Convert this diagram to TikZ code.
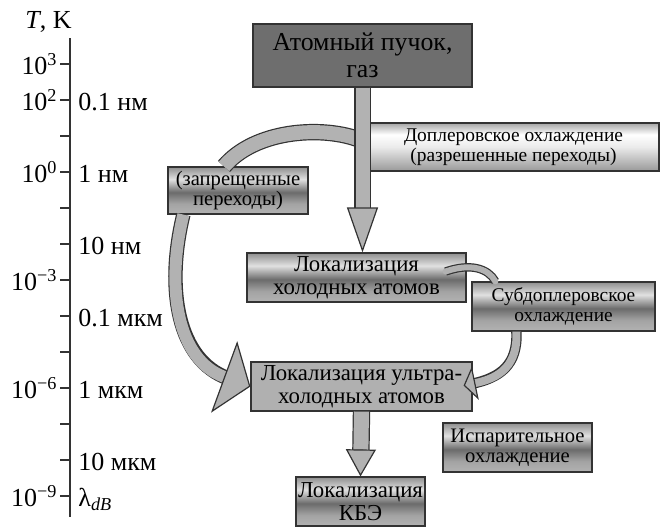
\documentclass[tikz,border=0pt]{standalone}
\usepackage{fontspec}
\setmainfont{Liberation Serif}
\usetikzlibrary{arrows.meta,calc}
\pgfdeclareverticalshading{metal}{100bp}{color(0bp)=(black!30); color(25bp)=(black!30); color(36bp)=(black!36); color(48bp)=(black!58); color(62bp)=(black!12); color(75bp)=(black!44); color(100bp)=(black!44)}
\pgfdeclareverticalshading{shine}{100bp}{color(0bp)=(black!40); color(25bp)=(black!40); color(50bp)=(black!8); color(63bp)=(white); color(75bp)=(black!35); color(100bp)=(black!35)}
\begin{document}
\begin{tikzpicture}[x=0.5pt,y=-0.5pt,
                    box/.style={draw=black!80,line width=0.6pt,inner sep=0pt,align=center},
                    metal/.style={box,shading=metal},
                    big/.style={font=\fontsize{11.4}{11.3}\selectfont},
                    small/.style={font=\fontsize{10.3}{10}\selectfont},
                    narrow/.style={font=\fontsize{9.7}{10}\selectfont},
                    ticklabel/.style={inner sep=0pt,font=\fontsize{13}{14}\selectfont},
                    band/.style={draw=black!30,line width=#1,preaction={draw=black!80,line width=#1+1.2pt}},
                    block/.style n args={4}{draw=black!30,line width=#1,
                      preaction={-,draw=black!80,line width=#1+1.2pt,shorten >=#4},
                      -{Triangle[length=#2,width=#3,color=black!80,fill=black!30,line width=0.6pt]}}]
\useasboundingbox (0,0) rectangle (660,527);
% temperature scale
\draw[black!80,line width=0.8pt] (70,38) -- (70,517);
\foreach \k in {0,...,12}
  \draw[black!80,line width=0.8pt] (60,{64+36*\k}) -- (70,{64+36*\k});
\node[ticklabel,anchor=base west] (tk) at (25,28) {\textit{T}, K};
\foreach \k/\e in {0/3,1/2,3/0,6/−3,9/−6,12/−9}
  \node[ticklabel,anchor=base east] (p\k) at (58,{74+36*\k}) {10\textsuperscript{\e}};
\foreach \k/\l in {1/0.1 нм,3/1 нм,5/10 нм,7/0.1 мкм,9/1 мкм,11/10 мкм}
  \node[ticklabel,anchor=base west] (s\k) at (78,{74+36*\k}) {\l};
\node[ticklabel,anchor=base west] (s12) at (78,506) {λ\textsubscript{\textit{dB}}};
% boxes
\node[box,fill=black!57,font=\fontsize{12.9}{13.3}\selectfont,minimum width=109.5pt,minimum height=31.5pt] (atom) at (362.5,55.5) {Атомный пучок,\\газ};
\node[box,narrow,shading=shine,minimum width=145.5pt,minimum height=24pt] (doppler) at (513.5,147) {Доплеровское охлаждение\\(разрешенные переходы)};
\node[metal,small,minimum width=70pt,minimum height=23.5pt] (forbid) at (238,190.5) {(запрещенные\\переходы)};
\node[metal,big,minimum width=109.5pt,minimum height=24.5pt] (cold) at (356.5,277.5) {Локализация\\холодных атомов};
\node[metal,narrow,minimum width=91.5pt,minimum height=24.5pt] (subdop) at (563.5,306.5) {Субдоплеровское\\охлаждение};
\node[box,big,fill=black!31,minimum width=110.5pt,minimum height=24.5pt] (ultra) at (361.5,386.5) {Локализация ультра-\\холодных атомов};
\node[metal,small,minimum width=74.5pt,minimum height=24.5pt] (evap) at (517.5,447.5) {Испарительное\\охлаждение};
\node[metal,big,minimum width=64.5pt,minimum height=24.5pt] (kbe) at (360.5,501.5) {Локализация\\КБЭ};
% arrows
\coordinate (split) at ($(atom.south)+(-6,51)$);
\draw[band=7pt] (split) .. controls (320,126) and (255,130) .. ($(forbid.north)+(-14,0)$);
\draw[block={7pt}{22.5pt}{15.5pt}{20pt}] (atom.south) -- (atom.south |- cold.north);
\draw[block={6pt}{14pt}{38pt}{12pt}] ($(forbid.south west)+(16,0)$) .. controls (165,290) and (178,360) .. (ultra.west);
\draw[band=3pt,line cap=round] ($(cold.east)+(-21,-6)$) .. controls (470,263) and (488,268) .. ($(subdop.north west)+(24,0)$);
\draw[block={4pt}{6pt}{17pt}{4pt}] ($(subdop.south west)+(45,0)$) .. controls (518,365) and (500,378) .. ($(ultra.east)+(-9,-1)$);
\draw[block={7.5pt}{13.5pt}{15pt}{11.5pt}] (ultra.south) -- (kbe.north);
\end{tikzpicture}
\end{document}
